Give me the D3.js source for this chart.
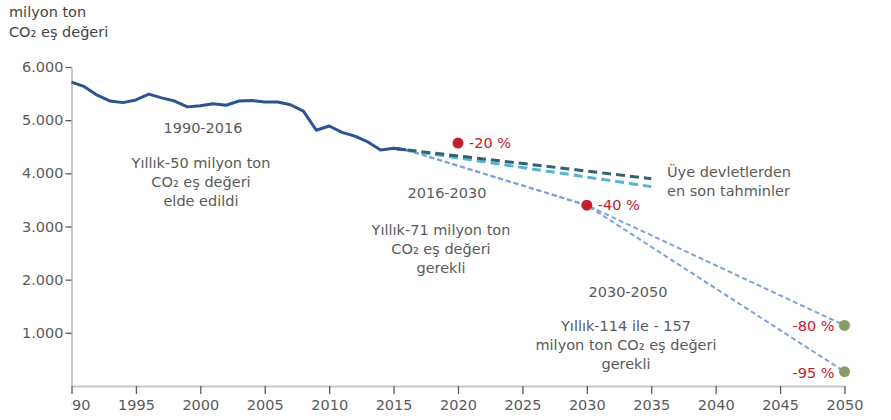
<!DOCTYPE html>
<html lang="tr">
<head>
<meta charset="UTF-8">
<title>Emisyonlar</title>
<script src="https://d3js.org/d3.v7.min.js"></script>
<style>
  body { margin: 0; background: #fff; }
  text { font-family: "DejaVu Sans", sans-serif; }
</style>
</head>
<body>
<div id="chart"></div>
<script>
// historical emissions, milyon ton CO2 eş değeri
const years = [1990, 1991, 1992, 1993, 1994, 1995, 1996, 1997, 1998, 1999, 2000, 2001, 2002, 2003,
  2004, 2005, 2006, 2007, 2008, 2009, 2010, 2011, 2012, 2013, 2014, 2015, 2016];
const emissions = [5714, 5630, 5470, 5360, 5330, 5380, 5490, 5420, 5360, 5250, 5270, 5310, 5280, 5360,
  5370, 5340, 5340, 5290, 5170, 4810, 4890, 4770, 4700, 4590, 4440, 4470, 4440];

// projections from member states
const projYears = [2015, 2035];
const projHigh = [4470, 3900];
const projLow = [4470, 3750];

// required paths
const pathYears = [2016, 2030, 2050];
const path80 = [4440, 3400, 1140];
const path95 = [4440, 3400, 270];

const targetsRed = [{ year: 2020, value: 4570, label: "-20 %" }, { year: 2030, value: 3400, label: "-40 %" }];
const targetsGreen = [{ year: 2050, value: 1140, label: "-80 %" }, { year: 2050, value: 270, label: "-95 %" }];

const xTicks = [1990, 1995, 2000, 2005, 2010, 2015, 2020, 2025, 2030, 2035, 2040, 2045, 2050];
const yTicks = [1000, 2000, 3000, 4000, 5000, 6000];

const width = 891, height = 420;
const svg = d3.select("#chart").append("svg")
  .attr("width", width).attr("height", height);

const x = d3.scaleLinear().domain([1990, 2050]).range([71.5, 844.5]);
const y = d3.scaleLinear().domain([0, 6000]).range([386, 67]);

const gray = "#5a5a5a";
const fs = "14.5px";

// axes
const yAxis = svg.append("g")
  .attr("transform", "translate(71.5,0)")
  .call(d3.axisLeft(y).tickValues(yTicks).tickSize(6).tickSizeOuter(0).tickPadding(2)
    .tickFormat(d => d3.format(",")(d).replace(",", ".")));
yAxis.select(".domain").attr("stroke", "#c8c8c8").attr("stroke-width", 2);
yAxis.selectAll(".tick line").attr("stroke", gray).attr("stroke-width", 1.3);
yAxis.selectAll("text").attr("fill", gray).style("font-size", fs);

// the first year label is cut at the y axis in the original
svg.append("clipPath").attr("id", "xclip")
  .append("rect").attr("x", 71).attr("y", -10).attr("width", 830).attr("height", 50);

const xAxis = svg.append("g")
  .attr("transform", "translate(0,386)")
  .attr("clip-path", "url(#xclip)")
  .call(d3.axisBottom(x).tickValues(xTicks).tickSize(8).tickSizeOuter(0).tickPadding(6)
    .tickFormat(d3.format("d")));
xAxis.select(".domain").attr("stroke", "#c8c8c8").attr("stroke-width", 2);
xAxis.selectAll(".tick line").attr("stroke", gray).attr("stroke-width", 1.3);
xAxis.selectAll("text").attr("fill", gray).style("font-size", fs);

// axis title
svg.append("text").attr("x", 9).attr("y", 17).attr("fill", "#444").style("font-size", fs)
  .text("milyon ton");
svg.append("text").attr("x", 9).attr("y", 37).attr("fill", "#444").style("font-size", fs)
  .text("CO₂ eş değeri");

const line = d3.line().x(d => x(d[0])).y(d => y(d[1]));

// required paths (light blue dashed)
[path80, path95].forEach(vals => {
  svg.append("path")
    .datum(pathYears.map((yr, i) => [yr, vals[i]]))
    .attr("d", line)
    .attr("fill", "none")
    .attr("stroke", "#7ea2d8")
    .attr("stroke-width", 2)
    .attr("stroke-dasharray", "5,3");
});

// projections
svg.append("path")
  .datum(projYears.map((yr, i) => [yr, projLow[i]]))
  .attr("d", line)
  .attr("fill", "none").attr("stroke", "#55b6cf").attr("stroke-width", 3)
  .attr("stroke-dasharray", "9,5");
svg.append("path")
  .datum(projYears.map((yr, i) => [yr, projHigh[i]]))
  .attr("d", line)
  .attr("fill", "none").attr("stroke", "#35626f").attr("stroke-width", 3)
  .attr("stroke-dasharray", "9,5");

// historical line
svg.append("path")
  .datum(years.map((yr, i) => [yr, emissions[i]]))
  .attr("d", line)
  .attr("fill", "none")
  .attr("stroke", "#2b5590")
  .attr("stroke-width", 3)
  .attr("stroke-linejoin", "round");

// target dots
const red = "#c0202a";
svg.selectAll(".dot-red").data(targetsRed).enter().append("circle")
  .attr("cx", d => x(d.year)).attr("cy", d => y(d.value)).attr("r", 5.5).attr("fill", red);
svg.selectAll(".lbl-red").data(targetsRed).enter().append("text")
  .attr("x", d => x(d.year) + 11).attr("y", d => y(d.value) + 5)
  .attr("fill", red).style("font-size", fs).text(d => d.label);

svg.selectAll(".dot-green").data(targetsGreen).enter().append("circle")
  .attr("cx", d => x(d.year)).attr("cy", d => y(d.value)).attr("r", 5.5).attr("fill", "#8a9a6c");
svg.selectAll(".lbl-green").data(targetsGreen).enter().append("text")
  .attr("x", d => x(d.year) - 10).attr("y", d => y(d.value) + 6)
  .attr("text-anchor", "end")
  .attr("fill", red).style("font-size", fs).text(d => d.label);

// annotations
function block(cx, y0, lines, anchor) {
  const t = svg.append("text").attr("fill", gray).style("font-size", fs)
    .attr("text-anchor", anchor || "middle");
  lines.forEach((s, i) => {
    t.append("tspan").attr("x", cx).attr("y", y0 + i * 19).text(s);
  });
}
block(203, 133, ["1990-2016"]);
block(201, 168, ["Yıllık-50 milyon ton", "CO₂ eş değeri", "elde edildi"]);
block(447, 198, ["2016-2030"]);
block(441, 235, ["Yıllık-71 milyon ton", "CO₂ eş değeri", "gerekli"]);
block(628, 297, ["2030-2050"]);
block(626, 331, ["Yıllık-114 ile - 157", "milyon ton CO₂ eş değeri", "gerekli"]);
block(667, 177, ["Üye devletlerden", "en son tahminler"], "start");
</script>
</body>
</html>
